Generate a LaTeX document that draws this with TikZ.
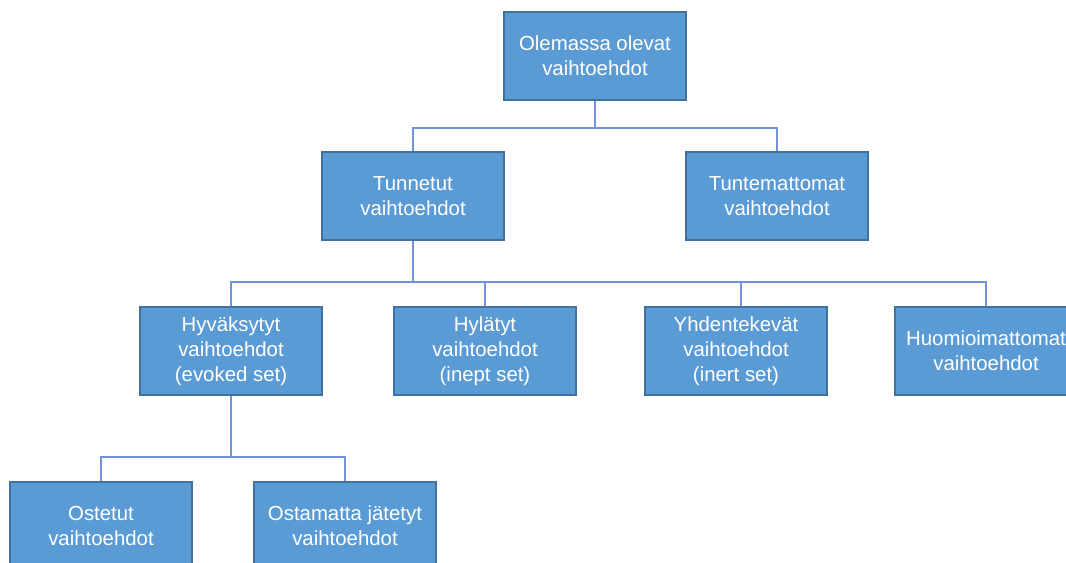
\documentclass[tikz,border=0pt]{standalone}
\usepackage{fontspec}
\setmainfont{Liberation Sans}
\usepackage{xcolor}
\usepackage{tikz}
\usetikzlibrary{positioning}

\definecolor{boxfill}{HTML}{5B9BD5}
\definecolor{boxline}{HTML}{41719C}
\definecolor{connline}{HTML}{7294D6}

\tikzset{
  box/.style={draw=boxline, line width=0.8pt, fill=boxfill, text=white,
    minimum width=3.64cm, minimum height=1.76cm, inner sep=0pt, align=center,
    font=\fontsize{11.6}{14.2}\selectfont},
  conn/.style={draw=connline, line width=0.6pt}
}

\begin{document}
\begin{tikzpicture}[x=0.02cm, y=-0.02cm]
  \useasboundingbox (0,0) rectangle (1066,563);

  % Top level
  \node[box] (top) at (595,56) {Olemassa olevat\\vaihtoehdot};

  % Known and unknown alternatives
  \node[box] (tun) at (413,196) {Tunnetut\\vaihtoehdot};
  \node[box] (tunt) at (777,196) {Tuntemattomat\\vaihtoehdot};

  % Known alternatives split up
  \node[box] (hyv) at (231,351) {Hyväksytyt\\vaihtoehdot\\(evoked set)};
  \node[box] (hyl) at (485,351) {Hylätyt\\vaihtoehdot\\(inept set)};
  \node[box] (yhd) at (736,351) {Yhdentekevät\\vaihtoehdot\\(inert set)};
  \node[box] (huo) at (986,351) {Huomioimattomat\\vaihtoehdot};

  % Accepted alternatives split up
  \node[box] (ost) at (101,526) {Ostetut\\vaihtoehdot};
  \node[box] (osj) at (345,526) {Ostamatta jätetyt\\vaihtoehdot};

  % Connectors
  \coordinate (bus1) at (595,128);
  \coordinate (bus2) at (413,282);
  \coordinate (bus3) at (231,457);

  \draw[conn] (top.south) -- (bus1) -| (tun.north);
  \draw[conn] (bus1) -| (tunt.north);

  \draw[conn] (tun.south) -- (bus2) -| (hyv.north);
  \draw[conn] (bus2) -| (hyl.north);
  \draw[conn] (bus2) -| ([xshift=0.1cm]yhd.north);
  \draw[conn] (bus2) -| (huo.north);

  \draw[conn] (hyv.south) -- (bus3) -| (ost.north);
  \draw[conn] (bus3) -| (osj.north);
\end{tikzpicture}
\end{document}
